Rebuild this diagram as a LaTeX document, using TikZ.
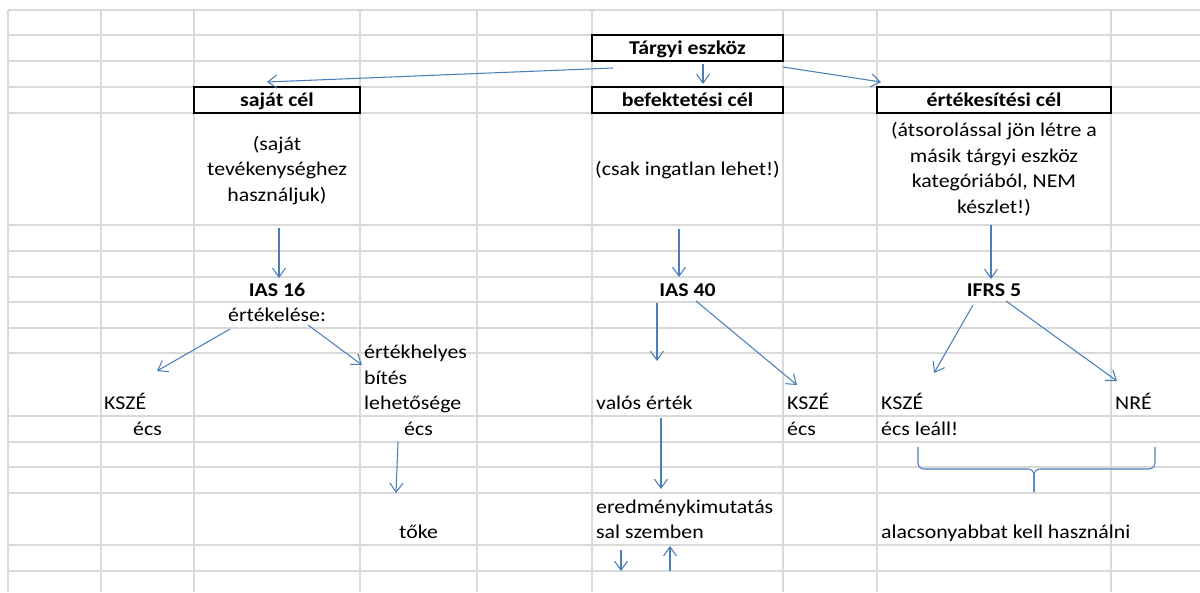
\documentclass[tikz,border=0pt]{standalone}
\usepackage{fontspec}
\setmainfont{Carlito}[FakeStretch=1.12]
\usepackage{tikz}
\usetikzlibrary{arrows.meta}
\definecolor{gridgray}{RGB}{217,217,217}
\definecolor{lineblue}{RGB}{74,126,187}
\tikzset{
	grid line/.style={draw=gridgray, line width=1.2pt},
	goal box/.style={draw=black, line width=1.8pt, fill=white, inner sep=0pt,
		minimum height=26pt, text height=15pt, text depth=2pt, font=\fontsize{19.5}{25}\selectfont\bfseries},
	arr/.style={draw=lineblue, line width=1.05pt, -{Straight Barb[length=9pt,width=13pt]}},
	brace line/.style={draw=lineblue, line width=1.05pt, rounded corners=6pt},
	ctxt/.style={inner sep=0pt, anchor=base, font=\fontsize{19.5}{25}\selectfont},
	ltxt/.style={inner sep=0pt, anchor=base west, font=\fontsize{19.5}{25}\selectfont},
	btxt/.style={ctxt, font=\fontsize{19.5}{25}\selectfont\bfseries},
}

\begin{document}
\begin{tikzpicture}[x=1pt, y=-1pt]
			%%%%% START %%%%%
			\useasboundingbox[fill=white] (0,0) rectangle (1200,592);
			
			% sheet grid
			\foreach \gx in {8,101,194,360,477,592,783,877,1111}
				\draw[grid line] (\gx,10) -- (\gx,592);
			\foreach \gy in {10,35,61,87,113,225,251,277,302,328,353,416,442,467,493,545,571}
				\draw[grid line] (8,\gy) -- (1200,\gy);
			
			% boxes
			\node[goal box, minimum width=191pt] (targyi) at (687.5,48) {Tárgyi eszköz};
			\node[goal box, minimum width=166pt] (sajat) at (277,100) {saját cél};
			\node[goal box, minimum width=191pt] (befekt) at (687.5,100) {befektetési cél};
			\node[goal box, minimum width=234pt] (ertek) at (994,100) {értékesítési cél};
			
			\node[ctxt] (sajat-n1) at (277,150) {(saját};
			\node[ctxt] (sajat-n2) at (277,175.5) {tevékenységhez};
			\node[ctxt] (sajat-n3) at (277,201) {használjuk)};
			\node[ctxt] (befekt-n) at (687.5,175.5) {(csak ingatlan lehet!)};
			\node[ctxt] (ertek-n1) at (994,136.5) {(átsorolással jön létre a};
			\node[ctxt] (ertek-n2) at (994,162) {másik tárgyi eszköz};
			\node[ctxt] (ertek-n3) at (994,187.5) {kategóriából, NEM};
			\node[ctxt] (ertek-n4) at (994,213) {készlet!)};
			
			\node[btxt] (ias16) at (277,296) {IAS 16};
			\node[ctxt] (ertekelese) at (277,321.5) {értékelése:};
			\node[btxt] (ias40) at (687.5,296) {IAS 40};
			\node[btxt] (ifrs5) at (994,296) {IFRS 5};
			
			% IAS 16 branch
			\node[ltxt] (kszeA) at (104,409.5) {KSZÉ};
			\node[ctxt] (ecsA) at (147.5,435.5) {écs};
			\node[ltxt] (ujert1) at (364,358.5) {értékhelyes};
			\node[ltxt] (ujert2) at (364,384) {bítés};
			\node[ltxt] (ujert3) at (364,409.5) {lehetősége};
			\node[ctxt] (ecsB) at (418.5,435.5) {écs};
			\node[ctxt] (toke) at (418.5,538.5) {tőke};
			
			% IAS 40 branch
			\node[ltxt] (valos) at (596,409.5) {valós érték};
			\node[ltxt] (kszeB) at (787,409.5) {KSZÉ};
			\node[ltxt] (ecsC) at (787,435.5) {écs};
			\node[ltxt] (eredm1) at (596,513) {eredménykimutatás};
			\node[ltxt] (eredm2) at (596,538.5) {sal szemben};
			
			% IFRS 5 branch
			\node[ltxt] (kszeC) at (881,409.5) {KSZÉ};
			\node[ltxt] (ecsD) at (881,435.5) {écs leáll!};
			\node[ltxt] (nre) at (1115,409.5) {NRÉ};
			\node[ltxt] (alacsony) at (881,538.5) {alacsonyabbat kell használni};
			
			% arrow ends
			\coordinate (a1) at (613,68);   \coordinate (b1) at (267,82);
			\coordinate (a2) at (703,64);   \coordinate (b2) at (703,84);
			\coordinate (a3) at (783,67);   \coordinate (b3) at (881,82);
			\coordinate (a4) at (279,228);  \coordinate (b4) at (279,278);
			\coordinate (a5) at (679,229);  \coordinate (b5) at (679,277);
			\coordinate (a6) at (991,225);  \coordinate (b6) at (991,279);
			\coordinate (a7) at (230,329);  \coordinate (b7) at (157,371);
			\coordinate (a8) at (308,325);  \coordinate (b8) at (362,365);
			\coordinate (a9) at (398,442);  \coordinate (b9) at (396,493);
			\coordinate (a10) at (657,303); \coordinate (b10) at (657,361);
			\coordinate (a11) at (696,301); \coordinate (b11) at (797,385);
			\coordinate (a12) at (973,305); \coordinate (b12) at (934,373);
			\coordinate (a13) at (1006,301); \coordinate (b13) at (1117,381);
			\coordinate (a14) at (661,418); \coordinate (b14) at (661,489);
			\coordinate (a15) at (621,550); \coordinate (b15) at (621,571);
			\coordinate (a16) at (670,571); \coordinate (b16) at (670,546);
			
			\foreach \i in {1,...,16}
				\draw[arr] (a\i) -- (b\i);
			
			% brace
			\draw[brace line] (918,447) -- (918,469) -- (1034,469) -- (1034,492);
			\draw[brace line] (1155,447) -- (1155,469) -- (1034,469) -- (1034,492);
			
			%%%%% END %%%%%
\end{tikzpicture}
\end{document}
